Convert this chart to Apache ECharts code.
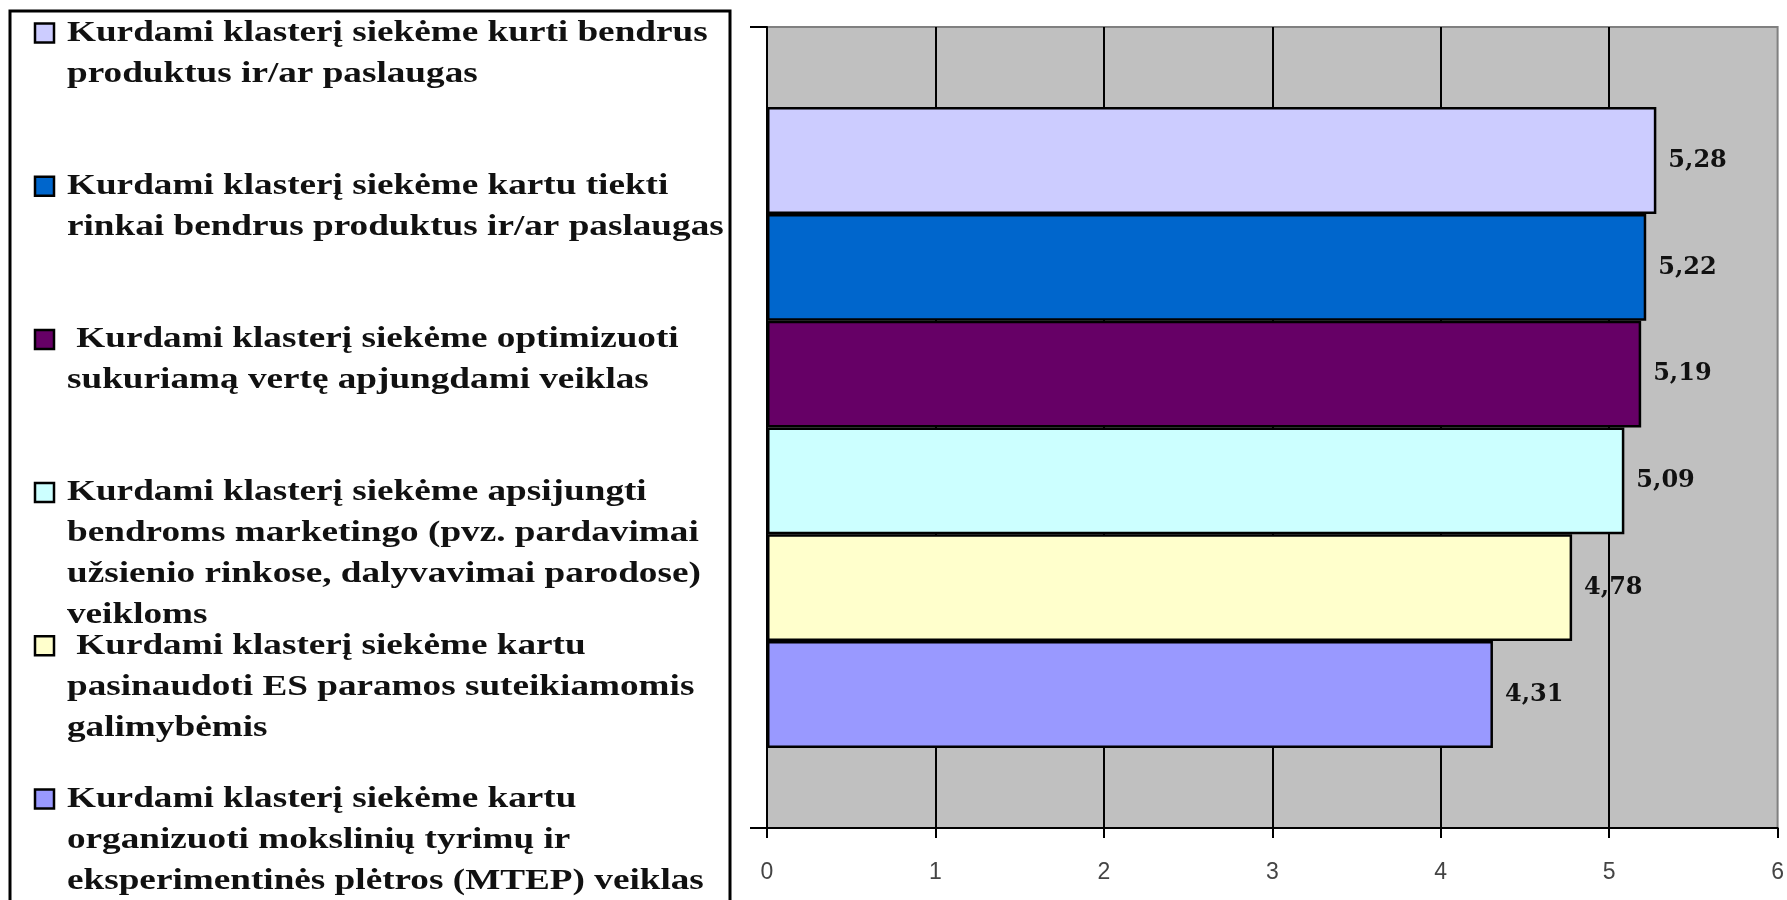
<!DOCTYPE html>
<html>
<head>
<meta charset="utf-8">
<script src="https://cdn.jsdelivr.net/npm/echarts@6/dist/echarts.min.js"></script>
<style>
  html, body { margin: 0; padding: 0; background: #fff; }
  #chart { width: 1787px; height: 900px; }
</style>
</head>
<body>
<div id="chart"></div>
<script>
const categories = [''];
const seriesNames = [
  'Kurdami klasterį siekėme kurti bendrus\nproduktus ir/ar paslaugas',
  'Kurdami klasterį siekėme kartu tiekti\nrinkai bendrus produktus ir/ar paslaugas',
  ' Kurdami klasterį siekėme optimizuoti\nsukuriamą vertę apjungdami veiklas',
  'Kurdami klasterį siekėme apsijungti\nbendroms marketingo (pvz. pardavimai\nužsienio rinkose, dalyvavimai parodose)\nveikloms',
  ' Kurdami klasterį siekėme kartu\npasinaudoti ES paramos suteikiamomis\ngalimybėmis',
  'Kurdami klasterį siekėme kartu\norganizuoti mokslinių tyrimų ir\neksperimentinės plėtros (MTEP) veiklas'
];
const seriesValues = [5.28, 5.22, 5.19, 5.09, 4.78, 4.31];
const seriesColors = ['#CCCCFF', '#0066CC', '#660066', '#CCFFFF', '#FFFFCC', '#9999FF'];
const xTicks = [0, 1, 2, 3, 4, 5, 6];

const chart = echarts.init(document.getElementById('chart'), null, { renderer: 'canvas' });

const series = seriesNames.map((name, i) => ({
  name: name,
  type: 'bar',
  data: [seriesValues[i]],
  barGap: '0%',
  barCategoryGap: '20%',
  itemStyle: { color: seriesColors[i], borderColor: '#000', borderWidth: 2.5 },
  label: {
    show: true,
    position: 'right',
    distance: 12,
    formatter: p => p.value.toFixed(2).replace('.', ','),
    fontFamily: 'DejaVu Serif',
    fontWeight: 'bold',
    fontSize: 24,
    color: '#111'
  },
  emphasis: { disabled: true },
  animation: false
}));

// legend drawn as graphic (box, swatches, wrapped text)
const legendGraphics = [{
  type: 'rect',
  shape: { x: 10, y: 11, width: 720, height: 950 },
  style: { fill: '#fff', stroke: '#000', lineWidth: 3 },
  z: 1
}];
seriesNames.forEach((name, i) => {
  const cy = 33 + i * 153.2;
  legendGraphics.push({
    type: 'rect',
    shape: { x: 35, y: cy - 9.5, width: 19, height: 19 },
    style: { fill: seriesColors[i], stroke: '#000', lineWidth: 2.5 },
    z: 2
  });
  legendGraphics.push({
    type: 'text',
    x: 67,
    y: cy - 20.5,
    scaleX: 1.24,
    style: {
      text: name,
      font: 'bold 30px "Liberation Serif"',
      lineHeight: 41,
      fill: '#111',
      verticalAlign: 'top',
      align: 'left'
    },
    z: 2
  });
});

chart.setOption({
  backgroundColor: '#fff',
  animation: false,
  grid: {
    left: 767, right: 7, top: 27, bottom: 72,
    show: true,
    backgroundColor: '#C0C0C0',
    borderColor: '#808080',
    borderWidth: 2
  },
  xAxis: {
    type: 'value',
    min: xTicks[0],
    max: xTicks[xTicks.length - 1],
    interval: 1,
    axisLine: { show: true, lineStyle: { color: '#000', width: 2 } },
    axisTick: { show: true, length: 10, lineStyle: { color: '#000', width: 2 } },
    splitLine: { show: true, showMaxLine: false, lineStyle: { color: '#000', width: 2 } },
    axisLabel: {
      margin: 33,
      fontFamily: 'Liberation Sans',
      fontSize: 23,
      color: '#444'
    }
  },
  yAxis: {
    type: 'category',
    data: categories,
    inverse: true,
    axisLine: { show: true, lineStyle: { color: '#000', width: 2 } },
    axisTick: { show: true, length: 17, lineStyle: { color: '#000', width: 2 } },
    axisLabel: { show: false },
    splitLine: { show: false }
  },
  graphic: legendGraphics,
  series: series
});
</script>
</body>
</html>
